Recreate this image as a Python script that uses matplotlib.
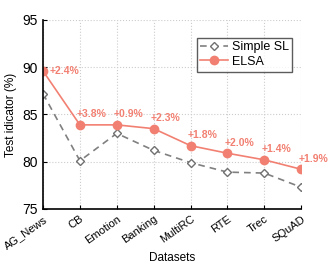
import matplotlib.pyplot as plt

plt.rcParams['font.family'] = ['Liberation Sans', 'DejaVu Sans']

datasets = ['AG_News', 'CB', 'Emotion', 'Banking', 'MultiRC', 'RTE', 'Trec', 'SQuAD']
simple_sl = [87.2, 80.1, 83.0, 81.2, 79.9, 78.9, 78.8, 77.3]
elsa = [89.6, 83.9, 83.9, 83.5, 81.7, 80.9, 80.2, 79.2]
gains = ['+2.4%', '+3.8%', '+0.9%', '+2.3%', '+1.8%', '+2.0%', '+1.4%', '+1.9%']

salmon = '#F28072'

fig = plt.figure(figsize=(3.31, 2.7), dpi=100)
ax = fig.add_axes([0.13, 0.226, 0.78, 0.70])

x = list(range(len(datasets)))
ax.plot(x, simple_sl, color='#808080', linestyle='--', dashes=(4, 3), linewidth=1.2,
        marker='D', markersize=4.5, markerfacecolor='white', markeredgecolor='#707070',
        markeredgewidth=1.0, label='Simple SL')
ax.plot(x, elsa, color=salmon, linewidth=1.2, marker='o', markersize=6,
        markerfacecolor=salmon, markeredgecolor=salmon, label='ELSA')

for i, (v, g) in enumerate(zip(elsa, gains)):
    if i == 0:
        ax.text(i + 0.18, v, g, color=salmon, fontsize=7.5, fontweight='bold', va='center', ha='left')
    else:
        ax.text(i - 0.08, v + 0.6, g, color=salmon, fontsize=7.5, fontweight='bold', va='bottom', ha='left')

ax.set_xlim(0, len(datasets) - 1)
ax.set_ylim(75, 95)
ax.set_yticks([75, 80, 85, 90, 95])
ax.set_xticks(x)
ax.set_xticklabels(datasets, rotation=35, ha='right', rotation_mode='anchor', fontsize=8)
ax.tick_params(axis='y', labelsize=10)
ax.tick_params(axis='both', direction='in', length=3)
ax.set_xlabel('Datasets', fontsize=8.5, labelpad=1)
ax.set_ylabel('Test idicator (%)', fontsize=8.5)
ax.grid(True, linestyle=':', color='#cccccc', linewidth=0.8)
ax.set_axisbelow(True)
for s in ['top', 'right']:
    ax.spines[s].set_visible(False)
for s in ['left', 'bottom']:
    ax.spines[s].set_linewidth(1.2)

leg = ax.legend(loc='upper right', fontsize=9, fancybox=False, edgecolor='#333333',
                handlelength=2.2, borderpad=0.3, labelspacing=0.2, handletextpad=0.3,
                bbox_to_anchor=(0.99, 0.94))
leg.get_frame().set_linewidth(1.0)

fig.savefig('out.png', dpi=100)
